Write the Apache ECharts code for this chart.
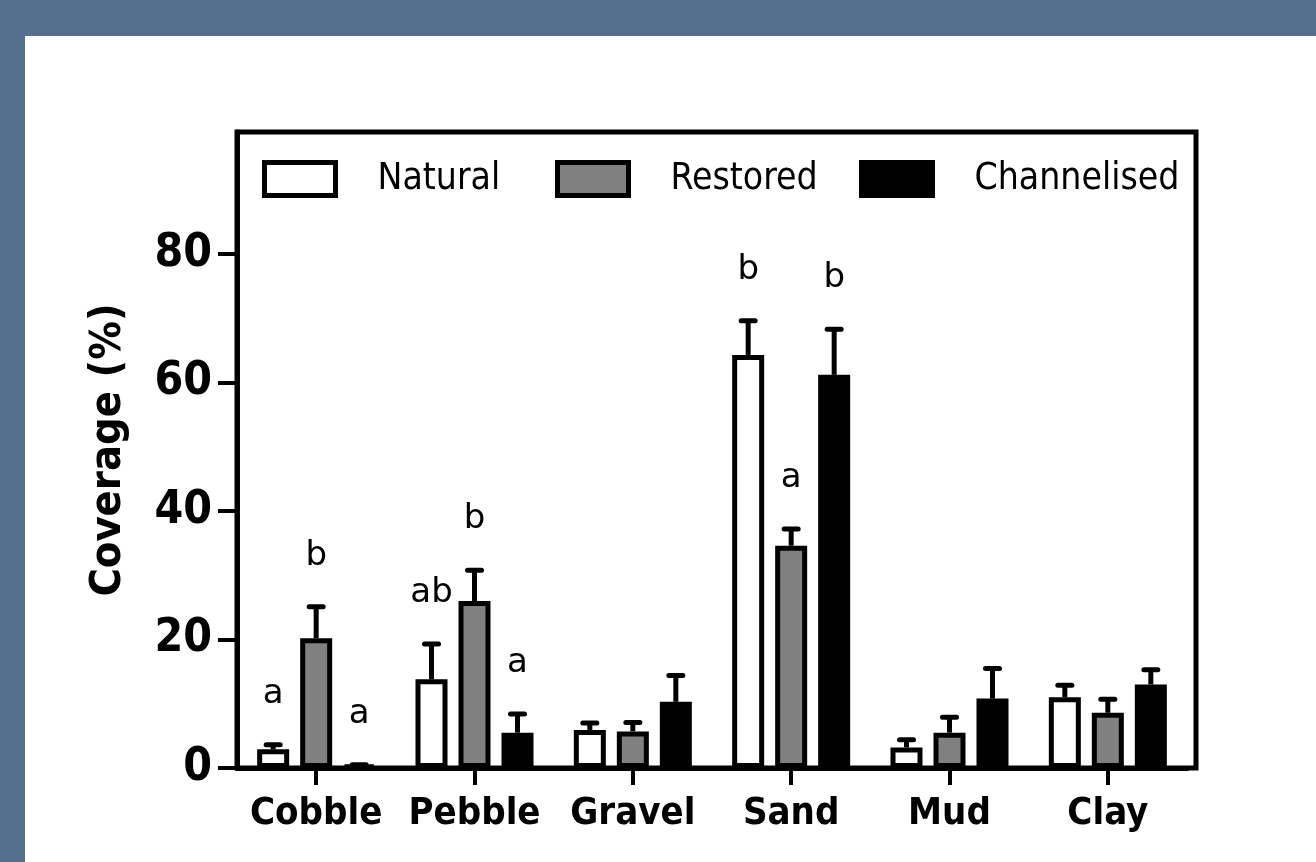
<!DOCTYPE html>
<html>
<head>
<meta charset="utf-8">
<script src="https://cdn.jsdelivr.net/npm/echarts@6/dist/echarts.min.js"></script>
<style>
  html, body { margin: 0; padding: 0; width: 1316px; height: 862px; overflow: hidden; background: #55708f; }
  #panel { position: absolute; left: 25px; top: 36px; right: 0; bottom: 0; background: #ffffff; }
  #chart { position: absolute; left: 0; top: 0; width: 1316px; height: 862px; }
</style>
</head>
<body>
<div id="panel"></div>
<div id="chart"></div>
<script>
// ---- data ----
const categories = ['Cobble', 'Pebble', 'Gravel', 'Sand', 'Mud', 'Clay'];
const seriesNames = ['Natural', 'Restored', 'Channelised'];
const naturalMean = [2.9, 13.8, 5.9, 64.3, 3.2, 11.0];
const naturalErr = [0.7, 5.5, 1.1, 5.3, 1.2, 1.9];
const restoredMean = [20.2, 26.0, 5.7, 34.6, 5.5, 8.6];
const restoredErr = [4.9, 4.8, 1.4, 2.6, 2.4, 2.1];
const channelisedMean = [0.4, 5.5, 10.3, 61.2, 10.8, 13.0];
const channelisedErr = [0.1, 2.9, 4.1, 7.1, 4.7, 2.3];
const naturalLetters = ['a', 'ab', '', 'b', '', ''];
const restoredLetters = ['b', 'b', '', 'a', '', ''];
const channelisedLetters = ['a', 'a', '', 'b', '', ''];
const yTicks = [0, 20, 40, 60, 80];

// ---- style ----
const BAR_W = 32;
const BAR_GAP = 11;
const BORDER = 5;
const fills = ['#ffffff', '#808080', '#000000'];
const means = [naturalMean, restoredMean, channelisedMean];
const errs = [naturalErr, restoredErr, channelisedErr];
const letters = [naturalLetters, restoredLetters, channelisedLetters];

const chart = echarts.init(document.getElementById('chart'), null, { renderer: 'canvas' });

const barSeries = seriesNames.map((name, i) => ({
  name: name,
  type: 'bar',
  xAxisIndex: 0, yAxisIndex: 0,
  barWidth: BAR_W,
  barGap: (BAR_GAP / BAR_W * 100).toFixed(2) + '%',
  data: means[i],
  itemStyle: { color: fills[i], borderColor: '#000', borderWidth: BORDER },
  emphasis: { disabled: true },
  z: 3
}));

const errSeries = seriesNames.map((name, i) => ({
  name: name + ' err',
  type: 'custom',
  xAxisIndex: 0, yAxisIndex: 0,
  data: categories.map((c, k) => [k, means[i][k], errs[i][k]]),
  renderItem: function (params, api) {
    const k = api.value(0);
    const v = api.value(1);
    const e = api.value(2);
    const lab = letters[i][k];
    const base = api.coord([k, v]);
    const top = api.coord([k, v + e]);
    const x = base[0] + (i - 1) * (BAR_W + BAR_GAP);
    const children = [
      { type: 'line', shape: { x1: x, y1: base[1], x2: x, y2: top[1] },
        style: { stroke: '#000', lineWidth: 5 } },
      { type: 'line', shape: { x1: x - 7, y1: top[1], x2: x + 7, y2: top[1] },
        style: { stroke: '#000', lineWidth: 5, lineCap: 'round' } }
    ];
    if (lab) {
      children.push({ type: 'text', x: x, y: top[1] - 34,
        style: { text: lab, fill: '#000', font: '34px "DejaVu Sans"', align: 'center', verticalAlign: 'bottom' } });
    }
    return { type: 'group', children: children };
  },
  z: 2,
  silent: true
}));

const legendBase = { orient: 'horizontal', top: 160, padding: 0, itemWidth: 71, itemHeight: 33,
  textStyle: { color: '#000', fontFamily: 'DejaVu Sans Condensed', fontSize: 37, padding: [4, 0, 0, 37] },
  itemStyle: { borderWidth: BORDER, borderColor: '#000' }, selectedMode: false, icon: 'rect' };

const option = {
  animation: false,
  backgroundColor: 'transparent',
  legend: [
    Object.assign({}, legendBase, { left: 262, data: ['Natural'] }),
    Object.assign({}, legendBase, { left: 555, data: ['Restored'] }),
    Object.assign({}, legendBase, { left: 859, data: ['Channelised'] })
  ],
  grid: [
    { left: 237, right: 129, top: 132, bottom: 94, containLabel: false },
    { left: 237, right: 120, top: 132, bottom: 94, show: true, borderColor: '#000', borderWidth: 5, backgroundColor: 'transparent', z: 5 }
  ],
  xAxis: [
    { type: 'category', gridIndex: 0, data: categories,
      axisLine: { show: true, lineStyle: { color: '#000', width: 5 } },
      axisTick: { show: true, alignWithLabel: true, interval: 0, length: 17, lineStyle: { color: '#000', width: 4 } },
      axisLabel: { interval: 0, color: '#000', fontFamily: 'DejaVu Sans Condensed', fontWeight: 'bold', fontSize: 38, margin: 27 } },
    { type: 'value', gridIndex: 1, show: false, min: 0, max: 1 }
  ],
  yAxis: [
    { type: 'value', gridIndex: 0, min: 0, max: 99, interval: 20,
      name: 'Coverage (%)', nameLocation: 'middle', nameGap: 107, nameRotate: 90,
      nameTextStyle: { color: '#000', fontFamily: 'DejaVu Sans Condensed', fontWeight: 'bold', fontSize: 43 },
      axisLine: { show: true, lineStyle: { color: '#000', width: 5 } },
      axisTick: { show: true, length: 19, customValues: yTicks, lineStyle: { color: '#000', width: 4 } },
      axisLabel: { color: '#000', fontFamily: 'DejaVu Sans Condensed', fontWeight: 'bold', fontSize: 46, margin: 25, customValues: yTicks },
      splitLine: { show: false } },
    { type: 'value', gridIndex: 1, show: false, min: 0, max: 1 }
  ],
  series: barSeries.concat(errSeries)
};
chart.setOption(option);
</script>
</body>
</html>
